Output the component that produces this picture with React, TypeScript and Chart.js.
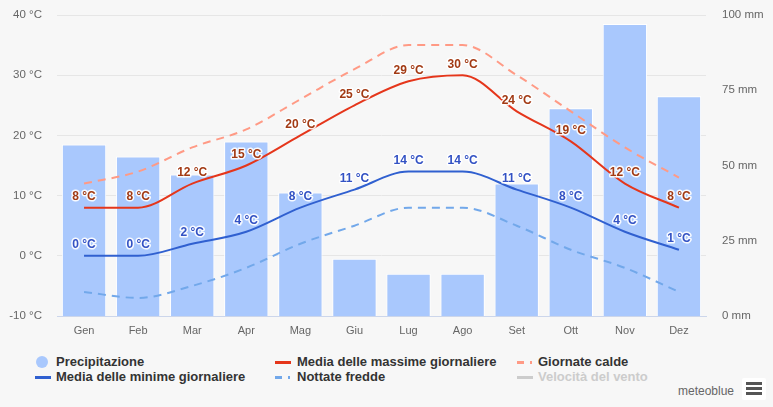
import React, { useEffect, useRef } from "react";
import { Chart, registerables } from "chart.js";

Chart.register(...registerables);

const months = ["Gen", "Feb", "Mar", "Apr", "Mag", "Giu", "Lug", "Ago", "Set", "Ott", "Nov", "Dez"];
const precipitation = [57, 53, 47, 58, 41, 19, 14, 14, 44, 69, 97, 73];
const maxTemp = [8, 8, 12, 15, 20, 25, 29, 30, 24, 19, 12, 8];
const minTemp = [0, 0, 2, 4, 8, 11, 14, 14, 11, 8, 4, 1];
const hotDays = [12, 14, 18, 21, 26, 31, 35, 35, 30, 24, 18, 13];
const coldNights = [-6, -7, -5, -2, 2, 5, 8, 8, 5, 1, -2, -6];
const tempRange = [-10, 40];
const precipRange = [0, 100];

const BAR = "#a9c8fd";
const MAXC = "#e5361b";
const MINC = "#3060d0";
const HOTC = "#ff9a85";
const COLDC = "#72a8ea";

const FONT = "'Liberation Sans', Arial, sans-serif";

const labelPlugin = {
  id: "tempLabels",
  afterDatasetsDraw(chart: any) {
    const ctx = chart.ctx;
    const specs = [
      { idx: 1, values: maxTemp, color: "#a23a14" },
      { idx: 2, values: minTemp, color: "#3352c4" },
    ];
    ctx.save();
    ctx.font = `bold 12px ${FONT}`;
    ctx.textAlign = "center";
    ctx.textBaseline = "middle";
    ctx.lineJoin = "round";
    for (const s of specs) {
      const meta = chart.getDatasetMeta(s.idx);
      meta.data.forEach((pt: any, i: number) => {
        const text = `${s.values[i]} °C`;
        const x = pt.x;
        const y = pt.y - 11;
        ctx.strokeStyle = "rgba(255,255,255,0.9)";
        ctx.lineWidth = 3;
        ctx.strokeText(text, x, y);
        ctx.fillStyle = s.color;
        ctx.fillText(text, x, y);
      });
    }
    ctx.restore();
  },
};

function ChartCanvas() {
  const ref = useRef<HTMLCanvasElement | null>(null);
  useEffect(() => {
    if (!ref.current) return;
    const chart = new Chart(ref.current, {
      type: "bar",
      data: {
        labels: months,
        datasets: [
          {
            type: "bar",
            label: "Precipitazione",
            data: precipitation,
            backgroundColor: BAR,
            borderColor: "#ffffff",
            borderWidth: 1,
            yAxisID: "y1",
            barPercentage: 0.82,
            categoryPercentage: 1,
            order: 10,
          } as any,
          {
            type: "line",
            label: "Media delle massime giornaliere",
            data: maxTemp,
            borderColor: MAXC,
            borderWidth: 2,
            pointRadius: 0,
            cubicInterpolationMode: "monotone",
            yAxisID: "y",
            order: 1,
          },
          {
            type: "line",
            label: "Media delle minime giornaliere",
            data: minTemp,
            borderColor: MINC,
            borderWidth: 2,
            pointRadius: 0,
            cubicInterpolationMode: "monotone",
            yAxisID: "y",
            order: 2,
          },
          {
            type: "line",
            label: "Giornate calde",
            data: hotDays,
            borderColor: HOTC,
            borderWidth: 2,
            borderDash: [8, 6],
            pointRadius: 0,
            cubicInterpolationMode: "monotone",
            yAxisID: "y",
            order: 5,
          },
          {
            type: "line",
            label: "Nottate fredde",
            data: coldNights,
            borderColor: COLDC,
            borderWidth: 2,
            borderDash: [8, 6],
            pointRadius: 0,
            cubicInterpolationMode: "monotone",
            yAxisID: "y",
            order: 6,
          },
        ],
      },
      options: {
        responsive: false,
        animation: false,
        devicePixelRatio: 1,
        layout: { padding: { top: 15, left: 0, right: 0, bottom: 0 } },
        plugins: { legend: { display: false }, tooltip: { enabled: false } },
        scales: {
          x: {
            offset: true,
            grid: { display: false, drawTicks: false },
            border: { display: true, color: "#ccd6eb", width: 1 },
            ticks: { color: "#666666", font: { family: FONT, size: 11 }, padding: 8 },
            afterFit: (s: any) => {
              s.height = 29;
            },
          },
          y: {
            position: "left",
            min: tempRange[0],
            max: tempRange[1],
            grid: { color: "#e6e6e6", drawTicks: false },
            border: { display: false },
            ticks: {
              stepSize: 10,
              color: "#666666",
              font: { family: FONT, size: 11.5 },
              padding: 15,
              callback: (v: any) => `${v} °C`,
            },
            afterFit: (s: any) => {
              s.width = 57;
              s.paddingTop = 0;
              s.paddingBottom = 0;
            },
          },
          y1: {
            position: "right",
            min: precipRange[0],
            max: precipRange[1],
            grid: { display: false, drawTicks: false },
            border: { display: false },
            ticks: {
              stepSize: 25,
              color: "#666666",
              font: { family: FONT, size: 11.5 },
              padding: 16,
              callback: (v: any) => `${v} mm`,
            },
            afterFit: (s: any) => {
              s.width = 67;
              s.paddingTop = 0;
              s.paddingBottom = 0;
            },
          },
        },
      },
      plugins: [labelPlugin],
    } as any);
    return () => chart.destroy();
  }, []);
  return <canvas ref={ref} width={773} height={345} style={{ display: "block", width: 773, height: 345 }} />;
}

const legendText: React.CSSProperties = {
  position: "absolute",
  fontFamily: FONT,
  fontWeight: "bold",
  fontSize: 13,
  color: "#333333",
  lineHeight: "14px",
  whiteSpace: "nowrap",
};

function LineIcon({ x, y, color, dashed }: { x: number; y: number; color: string; dashed?: boolean }) {
  if (!dashed) {
    return <div style={{ position: "absolute", left: x, top: y - 1, width: 16, height: 2.5, background: color }} />;
  }
  return (
    <>
      <div style={{ position: "absolute", left: x, top: y - 1, width: 7, height: 2.5, background: color }} />
      <div style={{ position: "absolute", left: x + 13, top: y - 1, width: 2, height: 2.5, background: color }} />
    </>
  );
}

export default function App() {
  return (
    <div
      style={{
        position: "fixed",
        left: 0,
        top: 0,
        width: 773,
        height: 407,
        background: "#f7f7f7",
        overflow: "hidden",
      }}
    >
      <ChartCanvas />
      <div
        style={{
          position: "absolute",
          left: 36,
          top: 356,
          width: 12,
          height: 12,
          borderRadius: 6,
          background: BAR,
        }}
      />
      <div style={{ ...legendText, left: 56, top: 355 }}>Precipitazione</div>
      <LineIcon x={275} y={362} color={MAXC} />
      <div style={{ ...legendText, left: 297, top: 355 }}>Media delle massime giornaliere</div>
      <LineIcon x={517} y={362} color={HOTC} dashed />
      <div style={{ ...legendText, left: 538, top: 355 }}>Giornate calde</div>

      <LineIcon x={35} y={377} color={MINC} />
      <div style={{ ...legendText, left: 56, top: 370 }}>Media delle minime giornaliere</div>
      <LineIcon x={275} y={377} color={COLDC} dashed />
      <div style={{ ...legendText, left: 297, top: 370 }}>Nottate fredde</div>
      <LineIcon x={517} y={377} color="#cccccc" />
      <div style={{ ...legendText, left: 538, top: 370, color: "#cccccc" }}>Velocità del vento</div>

      <div
        style={{
          position: "absolute",
          left: 678,
          top: 383,
          fontFamily: FONT,
          fontSize: 12,
          color: "#666666",
          lineHeight: "16px",
        }}
      >
        meteoblue
      </div>
      <div
        style={{
          position: "absolute",
          left: 742,
          top: 378,
          width: 24,
          height: 22,
          background: "#ffffff",
          borderRadius: 2,
        }}
      >
        {[5, 10, 15].map((t) => (
          <div
            key={t}
            style={{ position: "absolute", left: 4, top: t - 1, width: 16, height: 3, background: "#555555" }}
          />
        ))}
      </div>
    </div>
  );
}
